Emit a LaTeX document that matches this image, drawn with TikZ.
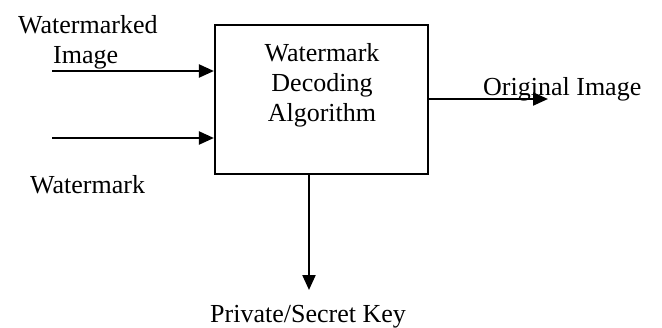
\documentclass[tikz,border=0pt]{standalone}
\usepackage{fontspec}
\setmainfont{Liberation Serif}
\usetikzlibrary{arrows.meta}
\tikzset{
  lbl/.style={inner sep=0pt, anchor=base west, font=\fontsize{26}{30}\selectfont},
  blk/.style={draw, line width=2.2pt, minimum width=213pt, minimum height=149pt, inner sep=0pt},
  arr/.style={line width=2.2pt, -{Triangle[length=15pt, width=13pt]}}
}
\begin{document}
\begin{tikzpicture}[x=1pt,y=-1pt]
\useasboundingbox (0,0) rectangle (662,327);
\node[blk] (box) at (321.5,99.5) {};
\node[inner sep=0pt, align=center, font=\fontsize{26}{30}\selectfont, anchor=base] (boxtxt) at (322,121) {Watermark\\Decoding\\Algorithm};
\node[lbl] (t1) at (18,33) {Watermarked};
\node[lbl] (t2) at (53,63) {Image};
\node[lbl] (t3) at (30,193) {Watermark};
\node[lbl] (t4) at (483,95) {Original Image};
\node[lbl] (t5) at (210,322) {Private/Secret Key};
\coordinate (in1) at (52,71);
\coordinate (in2) at (52,138);
\coordinate (out1) at (548,99);
\coordinate (out2) at (309,290);
\draw[arr] (in1) -- (in1 -| box.west);
\draw[arr] (in2) -- (in2 -| box.west);
\draw[arr] (out1 -| box.east) -- (out1);
\draw[arr] (out2 |- box.south) -- (out2);
\end{tikzpicture}
\end{document}
